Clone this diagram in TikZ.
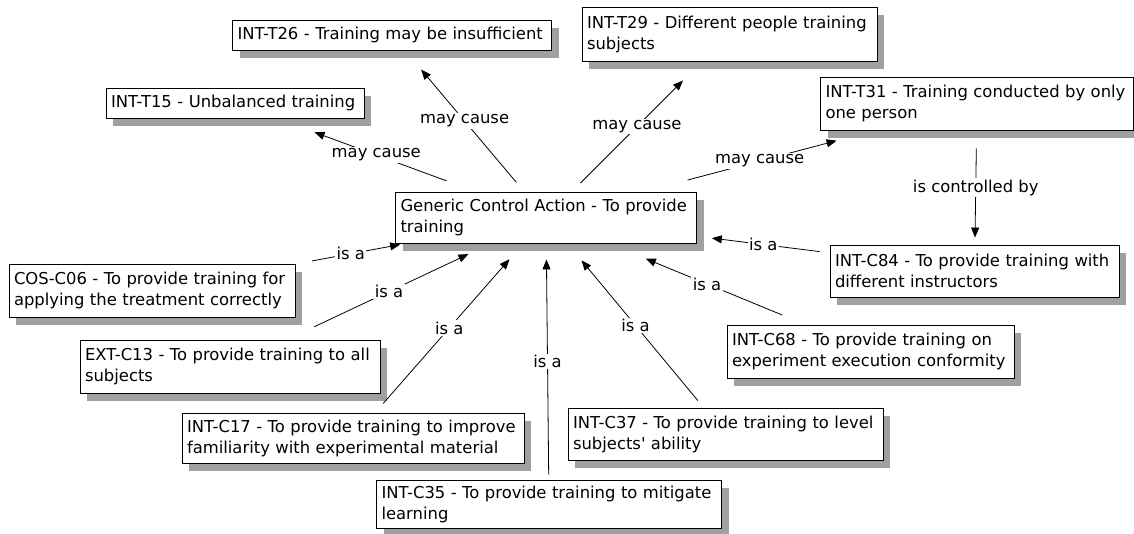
\documentclass[tikz,border=0pt]{standalone}
\usepackage{fontspec}
\newfontfamily\diafont{DejaVu Sans}
\usetikzlibrary{arrows.meta,shadows}
\definecolor{shadowgray}{RGB}{160,160,160}
\begin{document}
\begin{tikzpicture}[x=1pt,y=-1pt,
  box/.style={draw=black, line width=0.9pt, fill=white, align=left, inner xsep=5pt, inner ysep=2pt,
    font=\diafont\fontsize{16.4}{21}\selectfont,
    drop shadow={shadow xshift=7pt, shadow yshift=-8pt, fill=shadowgray, opacity=1}},
  link/.style={draw=black, line width=0.8pt, -{Triangle[length=10pt,width=8pt]}},
  lab/.style={fill=white, inner sep=1.5pt, font=\diafont\fontsize{16.4}{19}\selectfont}]
\useasboundingbox (0,0) rectangle (1134,533);

\node[box, text width=309pt, minimum height=30pt] (t26) at (392,35) {INT-T26 - Training may be insufficient};
\node[box, text width=285pt, minimum height=54pt] (t29) at (729.5,34) {INT-T29 - Different people training\\subjects};
\node[box, text width=248pt, minimum height=30pt] (t15) at (235,103) {INT-T15 - Unbalanced training};
\node[box, text width=303pt, minimum height=53pt] (t31) at (977,103.5) {INT-T31 - Training conducted by only\\one person};
\node[box, text width=291pt, minimum height=51pt] (gen) at (546,217.5) {Generic Control Action - To provide\\training};
\node[box, text width=279pt, minimum height=52pt] (c84) at (974.5,271) {INT-C84 - To provide training with\\different instructors};
\node[box, text width=276pt, minimum height=53pt] (cos) at (152,290.5) {COS-C06 - To provide training for\\applying the treatment correctly};
\node[box, text width=290pt, minimum height=53pt] (ext) at (230,366.5) {EXT-C13 - To provide training to all\\subjects};
\node[box, text width=277pt, minimum height=53pt] (c68) at (870.5,351.5) {INT-C68 - To provide training on\\experiment execution conformity};
\node[box, text width=332pt, minimum height=50pt] (c17) at (353,438) {INT-C17 - To provide training to improve\\familiarity with experimental material};
\node[box, text width=305pt, minimum height=52pt] (c37) at (725.5,434) {INT-C37 - To provide training to level\\subjects\char39\ ability};
\node[box, text width=335pt, minimum height=48pt] (c35) at (549,504) {INT-C35 - To provide training to mitigate\\learning};

\draw[link, shorten <=31pt, shorten >=40pt] (gen) -- node[lab]{may cause} (t15);
\draw[link, shorten <=12pt, shorten >=25pt] (gen) -- node[lab]{may cause} (t26);
\draw[link, shorten <=12pt, shorten >=27pt] (gen) -- node[lab]{may cause} (t29);
\draw[link, shorten <=45pt, shorten >=40pt] (gen) -- node[lab]{may cause} (t31);
\draw[link, shorten <=18pt, shorten >=7pt] (t31) -- node[lab]{is controlled by} (c84);
\draw[link, shorten <=10pt, shorten >=15pt] (c84) -- node[lab]{is a} (gen);
\draw[link, shorten <=17pt, shorten >=6pt] (cos) -- node[lab]{is a} (gen);
\draw[link, shorten <=30pt, shorten >=25pt] (ext) -- node[lab]{is a} (gen);
\draw[link, shorten <=12pt, shorten >=21pt] (c17) -- node[lab]{is a} (gen);
\draw[link, shorten <=5pt, shorten >=16pt] (c35) -- node[lab]{is a} (gen);
\draw[link, shorten <=9pt, shorten >=22pt] (c37) -- node[lab]{is a} (gen);
\draw[link, shorten <=25pt, shorten >=40pt] (c68) -- node[lab]{is a} (gen);
\end{tikzpicture}
\end{document}
